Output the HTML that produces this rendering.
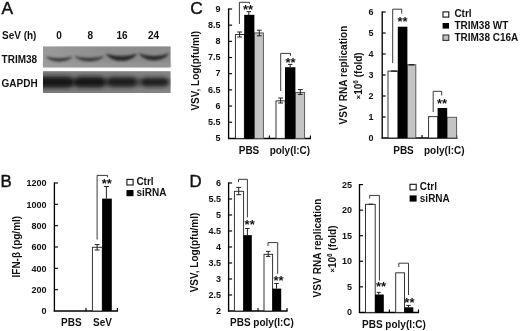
<!DOCTYPE html>
<html><head><meta charset="utf-8"><title>Figure</title>
<style>
html,body{margin:0;padding:0;background:#fff;}
svg{display:block;}
text{font-family:"Liberation Sans",Arial,Helvetica,sans-serif;fill:#111;}
</style></head>
<body>
<svg width="520" height="331" viewBox="0 0 520 331">
<defs>
<linearGradient id="g1" x1="0" y1="0" x2="1" y2="0">
<stop offset="0" stop-color="#9a9a9a"/><stop offset="0.5" stop-color="#8d8d8d"/><stop offset="1" stop-color="#8a8a8a"/>
</linearGradient>
<linearGradient id="g2" x1="0" y1="0" x2="1" y2="0">
<stop offset="0" stop-color="#7c7c7c"/><stop offset="1" stop-color="#858585"/>
</linearGradient>
<filter id="b1" x="-5%" y="-20%" width="110%" height="140%"><feGaussianBlur stdDeviation="0.5"/></filter>
<filter id="b2" x="-10%" y="-50%" width="120%" height="200%"><feGaussianBlur stdDeviation="1.1"/></filter>
<filter id="b3" x="-10%" y="-50%" width="120%" height="200%"><feGaussianBlur stdDeviation="2.1"/></filter>
<clipPath id="c1"><rect x="43" y="46.4" width="127.6" height="21"/></clipPath>
<clipPath id="c2"><rect x="43" y="71.2" width="127.6" height="21.8"/></clipPath>
</defs>
<rect width="520" height="331" fill="#fff"/>
<text x="1.60" y="14.00" font-size="17.3" font-weight="normal" text-anchor="start" stroke="#111" stroke-width="0.45">A</text>
<text x="0.40" y="186.60" font-size="16.8" font-weight="normal" text-anchor="start" stroke="#111" stroke-width="0.45">B</text>
<text x="190.20" y="13.80" font-size="17.3" font-weight="normal" text-anchor="start" stroke="#111" stroke-width="0.45">C</text>
<text x="189.60" y="186.60" font-size="16.8" font-weight="normal" text-anchor="start" stroke="#111" stroke-width="0.45">D</text>
<text x="2.00" y="39.40" font-size="10" font-weight="bold" text-anchor="start" >SeV (h)</text>
<text x="59.00" y="39.40" font-size="10" font-weight="bold" text-anchor="middle" >0</text>
<text x="90.40" y="39.40" font-size="10" font-weight="bold" text-anchor="middle" >8</text>
<text x="122.00" y="39.40" font-size="10" font-weight="bold" text-anchor="middle" >16</text>
<text x="153.60" y="39.40" font-size="10" font-weight="bold" text-anchor="middle" >24</text>
<text x="1.60" y="62.60" font-size="10" font-weight="bold" text-anchor="start" >TRIM38</text>
<text x="1.60" y="86.80" font-size="10" font-weight="bold" text-anchor="start" >GAPDH</text>
<g filter="url(#b1)">
<rect x="43" y="46.4" width="127.6" height="21" fill="url(#g1)"/>
<rect x="43" y="71.2" width="127.6" height="21.8" fill="url(#g2)"/>
</g>
<rect x="43" y="62.5" width="127.6" height="4.9" fill="#a0a0a0" opacity="0.45" filter="url(#b2)"/>
<g clip-path="url(#c1)"><g filter="url(#b2)">
<path d="M46.5,57.0 C53.6,58.9 64.9,58.9 72.0,57.0 C66.4,62.7 52.1,62.7 46.5,57.0 Z" fill="#303030" stroke="#303030" stroke-width="0.8" stroke-linejoin="round" opacity="0.85"/>
<path d="M75.2,56.6 C83.0,58.6 95.4,58.6 103.2,56.6 C97.0,62.6 81.4,62.6 75.2,56.6 Z" fill="#2e2e2e" stroke="#2e2e2e" stroke-width="0.8" stroke-linejoin="round" opacity="0.85"/>
<path d="M106.4,54.2 C114.9,56.9 128.1,56.9 136.6,54.2 C130.0,62.7 113.0,62.7 106.4,54.2 Z" fill="#222" stroke="#222" stroke-width="0.8" stroke-linejoin="round" opacity="0.92"/>
<path d="M139.4,53.8 C147.5,56.9 160.3,56.9 168.4,53.8 C162.0,62.2 145.8,62.2 139.4,53.8 Z" fill="#262626" stroke="#262626" stroke-width="0.8" stroke-linejoin="round" opacity="0.92"/>
</g></g>
<g clip-path="url(#c2)"><g filter="url(#b3)">
<rect x="40" y="77.5" width="100" height="9" fill="#333" opacity="0.75"/><rect x="130" y="78" width="42" height="8" fill="#555" opacity="0.5"/>
<rect x="36.0" y="76.6" width="37.6" height="11.2" rx="5.6" fill="#141414" opacity="1"/>
<rect x="74.2" y="76.8" width="31.4" height="10.8" rx="5.4" fill="#161616" opacity="1"/>
<rect x="107.4" y="77.0" width="29.6" height="10.0" rx="5.0" fill="#1a1a1a" opacity="1"/>
<rect x="140.4" y="77.8" width="28.6" height="8.6" rx="4.3" fill="#1a1a1a" opacity="1"/>
</g></g>
<line x1="54.40" y1="182.40" x2="54.40" y2="311.60" stroke="#000" stroke-width="1.35"/>
<text x="46.60" y="314.30" font-size="9" font-weight="bold" text-anchor="end" >0</text>
<line x1="54.40" y1="289.67" x2="57.90" y2="289.67" stroke="#000" stroke-width="1.15"/>
<text x="46.60" y="292.97" font-size="9" font-weight="bold" text-anchor="end" >200</text>
<line x1="54.40" y1="268.33" x2="57.90" y2="268.33" stroke="#000" stroke-width="1.15"/>
<text x="46.60" y="271.63" font-size="9" font-weight="bold" text-anchor="end" >400</text>
<line x1="54.40" y1="247.00" x2="57.90" y2="247.00" stroke="#000" stroke-width="1.15"/>
<text x="46.60" y="250.30" font-size="9" font-weight="bold" text-anchor="end" >600</text>
<line x1="54.40" y1="225.67" x2="57.90" y2="225.67" stroke="#000" stroke-width="1.15"/>
<text x="46.60" y="228.97" font-size="9" font-weight="bold" text-anchor="end" >800</text>
<line x1="54.40" y1="204.33" x2="57.90" y2="204.33" stroke="#000" stroke-width="1.15"/>
<text x="46.60" y="207.63" font-size="9" font-weight="bold" text-anchor="end" >1000</text>
<line x1="54.40" y1="183.00" x2="57.90" y2="183.00" stroke="#000" stroke-width="1.15"/>
<text x="46.60" y="186.30" font-size="9" font-weight="bold" text-anchor="end" >1200</text>
<line x1="53.80" y1="311.00" x2="118.00" y2="311.00" stroke="#000" stroke-width="1.45"/>
<line x1="86.00" y1="311.00" x2="86.00" y2="308.00" stroke="#000" stroke-width="1.15"/>
<line x1="117.40" y1="311.00" x2="117.40" y2="308.00" stroke="#000" stroke-width="1.15"/>
<rect x="92.40" y="247.30" width="9.90" height="63.70" fill="#fff" stroke="#2a2a2a" stroke-width="0.95"/>
<rect x="102.10" y="198.60" width="9.70" height="112.40" fill="#000"/>
<line x1="97.10" y1="244.60" x2="97.10" y2="250.00" stroke="#222" stroke-width="1.0"/>
<line x1="94.70" y1="244.60" x2="99.50" y2="244.60" stroke="#222" stroke-width="1.0"/>
<line x1="94.70" y1="250.00" x2="99.50" y2="250.00" stroke="#222" stroke-width="1.0"/>
<line x1="106.40" y1="186.50" x2="106.40" y2="198.60" stroke="#222" stroke-width="1.0"/>
<line x1="103.90" y1="186.50" x2="108.90" y2="186.50" stroke="#222" stroke-width="1.0"/>
<polyline points="97.10,239.50 97.10,175.40 107.60,175.40 107.60,177.40" fill="none" stroke="#3a3a3a" stroke-width="1.0"/>
<text x="106.80" y="188.15" font-size="13" font-weight="bold" text-anchor="middle" >**</text>
<text transform="translate(20.20,277.50) rotate(-90)" font-size="10" font-weight="bold" letter-spacing="0">IFN-β (pg/ml)</text>
<text x="71.30" y="325.60" font-size="10" font-weight="bold" text-anchor="middle" >PBS</text>
<text x="102.50" y="325.60" font-size="10" font-weight="bold" text-anchor="middle" >SeV</text>
<rect x="126.9" y="179.4" width="6.2" height="5.6" fill="#fff" stroke="#111" stroke-width="1.1"/>
<rect x="126.5" y="190" width="7" height="6.2" fill="#000"/>
<text x="136.40" y="185.40" font-size="10" font-weight="bold" text-anchor="start" >Ctrl</text>
<text x="136.40" y="196.40" font-size="10" font-weight="bold" text-anchor="start" >siRNA</text>
<line x1="228.60" y1="8.40" x2="228.60" y2="139.00" stroke="#000" stroke-width="1.35"/>
<text x="220.60" y="141.10" font-size="9" font-weight="bold" text-anchor="end" >5</text>
<line x1="228.60" y1="122.23" x2="232.10" y2="122.23" stroke="#000" stroke-width="1.15"/>
<text x="220.60" y="124.93" font-size="9" font-weight="bold" text-anchor="end" >5.5</text>
<line x1="228.60" y1="106.05" x2="232.10" y2="106.05" stroke="#000" stroke-width="1.15"/>
<text x="220.60" y="108.75" font-size="9" font-weight="bold" text-anchor="end" >6</text>
<line x1="228.60" y1="89.88" x2="232.10" y2="89.88" stroke="#000" stroke-width="1.15"/>
<text x="220.60" y="92.58" font-size="9" font-weight="bold" text-anchor="end" >6.5</text>
<line x1="228.60" y1="73.70" x2="232.10" y2="73.70" stroke="#000" stroke-width="1.15"/>
<text x="220.60" y="76.40" font-size="9" font-weight="bold" text-anchor="end" >7</text>
<line x1="228.60" y1="57.53" x2="232.10" y2="57.53" stroke="#000" stroke-width="1.15"/>
<text x="220.60" y="60.23" font-size="9" font-weight="bold" text-anchor="end" >7.5</text>
<line x1="228.60" y1="41.35" x2="232.10" y2="41.35" stroke="#000" stroke-width="1.15"/>
<text x="220.60" y="44.05" font-size="9" font-weight="bold" text-anchor="end" >8</text>
<line x1="228.60" y1="25.17" x2="232.10" y2="25.17" stroke="#000" stroke-width="1.15"/>
<text x="220.60" y="27.87" font-size="9" font-weight="bold" text-anchor="end" >8.5</text>
<line x1="228.60" y1="9.00" x2="232.10" y2="9.00" stroke="#000" stroke-width="1.15"/>
<text x="220.60" y="11.70" font-size="9" font-weight="bold" text-anchor="end" >9</text>
<line x1="228.00" y1="138.40" x2="311.00" y2="138.40" stroke="#000" stroke-width="1.45"/>
<line x1="269.40" y1="138.40" x2="269.40" y2="135.40" stroke="#000" stroke-width="1.15"/>
<line x1="310.40" y1="138.40" x2="310.40" y2="135.40" stroke="#000" stroke-width="1.15"/>
<rect x="235.40" y="34.53" width="9.00" height="103.87" fill="#fff" stroke="#2a2a2a" stroke-width="0.95"/>
<rect x="254.20" y="32.92" width="9.20" height="105.48" fill="#c4c4c4" stroke="#555" stroke-width="0.95"/>
<rect x="244.20" y="14.82" width="10.20" height="123.58" fill="#000"/>
<line x1="239.60" y1="32.00" x2="239.60" y2="37.00" stroke="#222" stroke-width="1.0"/>
<line x1="237.20" y1="32.00" x2="242.00" y2="32.00" stroke="#222" stroke-width="1.0"/>
<line x1="237.20" y1="37.00" x2="242.00" y2="37.00" stroke="#222" stroke-width="1.0"/>
<line x1="248.80" y1="11.70" x2="248.80" y2="15.00" stroke="#222" stroke-width="1.0"/>
<line x1="246.60" y1="11.70" x2="251.00" y2="11.70" stroke="#222" stroke-width="1.0"/>
<line x1="259.30" y1="30.20" x2="259.30" y2="35.80" stroke="#222" stroke-width="1.0"/>
<line x1="256.90" y1="30.20" x2="261.70" y2="30.20" stroke="#222" stroke-width="1.0"/>
<line x1="256.90" y1="35.80" x2="261.70" y2="35.80" stroke="#222" stroke-width="1.0"/>
<polyline points="239.40,24.00 239.40,2.30 249.50,2.30 249.50,3.80" fill="none" stroke="#3a3a3a" stroke-width="1.0"/>
<text x="248.00" y="13.95" font-size="13" font-weight="bold" text-anchor="middle" >**</text>
<rect x="276.00" y="100.85" width="9.20" height="37.55" fill="#fff" stroke="#2a2a2a" stroke-width="0.95"/>
<rect x="295.20" y="92.44" width="9.40" height="45.96" fill="#c4c4c4" stroke="#555" stroke-width="0.95"/>
<rect x="285.00" y="67.23" width="10.40" height="71.17" fill="#000"/>
<line x1="280.60" y1="98.00" x2="280.60" y2="103.00" stroke="#222" stroke-width="1.0"/>
<line x1="278.20" y1="98.00" x2="283.00" y2="98.00" stroke="#222" stroke-width="1.0"/>
<line x1="278.20" y1="103.00" x2="283.00" y2="103.00" stroke="#222" stroke-width="1.0"/>
<line x1="290.20" y1="64.40" x2="290.20" y2="67.20" stroke="#222" stroke-width="1.0"/>
<line x1="288.00" y1="64.40" x2="292.40" y2="64.40" stroke="#222" stroke-width="1.0"/>
<line x1="300.30" y1="89.60" x2="300.30" y2="94.40" stroke="#222" stroke-width="1.0"/>
<line x1="297.90" y1="89.60" x2="302.70" y2="89.60" stroke="#222" stroke-width="1.0"/>
<line x1="297.90" y1="94.40" x2="302.70" y2="94.40" stroke="#222" stroke-width="1.0"/>
<polyline points="280.70,91.00 280.70,53.40 290.50,53.40 290.50,55.80" fill="none" stroke="#3a3a3a" stroke-width="1.0"/>
<text x="290.50" y="66.55" font-size="13" font-weight="bold" text-anchor="middle" >**</text>
<text transform="translate(199.20,110.60) rotate(-90)" font-size="10" font-weight="bold" letter-spacing="0">VSV, Log(pfu/ml)</text>
<text x="249.00" y="153.60" font-size="10" font-weight="bold" text-anchor="middle" >PBS</text>
<text x="289.90" y="153.60" font-size="10" font-weight="bold" text-anchor="middle" >poly(I:C)</text>
<line x1="382.20" y1="11.40" x2="382.20" y2="138.60" stroke="#000" stroke-width="1.35"/>
<text x="373.60" y="140.70" font-size="9" font-weight="bold" text-anchor="end" >0</text>
<line x1="382.20" y1="117.00" x2="385.70" y2="117.00" stroke="#000" stroke-width="1.15"/>
<text x="373.60" y="119.70" font-size="9" font-weight="bold" text-anchor="end" >1</text>
<line x1="382.20" y1="96.00" x2="385.70" y2="96.00" stroke="#000" stroke-width="1.15"/>
<text x="373.60" y="98.70" font-size="9" font-weight="bold" text-anchor="end" >2</text>
<line x1="382.20" y1="75.00" x2="385.70" y2="75.00" stroke="#000" stroke-width="1.15"/>
<text x="373.60" y="77.70" font-size="9" font-weight="bold" text-anchor="end" >3</text>
<line x1="382.20" y1="54.00" x2="385.70" y2="54.00" stroke="#000" stroke-width="1.15"/>
<text x="373.60" y="56.70" font-size="9" font-weight="bold" text-anchor="end" >4</text>
<line x1="382.20" y1="33.00" x2="385.70" y2="33.00" stroke="#000" stroke-width="1.15"/>
<text x="373.60" y="35.70" font-size="9" font-weight="bold" text-anchor="end" >5</text>
<line x1="382.20" y1="12.00" x2="385.70" y2="12.00" stroke="#000" stroke-width="1.15"/>
<text x="373.60" y="14.70" font-size="9" font-weight="bold" text-anchor="end" >6</text>
<line x1="381.60" y1="138.00" x2="457.40" y2="138.00" stroke="#000" stroke-width="1.45"/>
<line x1="422.00" y1="138.00" x2="422.00" y2="135.00" stroke="#000" stroke-width="1.15"/>
<line x1="456.60" y1="138.00" x2="456.60" y2="135.00" stroke="#000" stroke-width="1.15"/>
<rect x="388.00" y="71.10" width="10.00" height="66.90" fill="#fff" stroke="#2a2a2a" stroke-width="0.95"/>
<rect x="407.20" y="64.80" width="8.60" height="73.20" fill="#c4c4c4" stroke="#555" stroke-width="0.95"/>
<rect x="397.80" y="26.70" width="9.60" height="111.30" fill="#000"/>
<line x1="391.00" y1="71.10" x2="397.00" y2="71.10" stroke="#111" stroke-width="1.2"/>
<line x1="408.50" y1="64.80" x2="414.50" y2="64.80" stroke="#111" stroke-width="1.2"/>
<polyline points="392.70,63.00 392.70,9.20 401.70,9.20 401.70,13.60" fill="none" stroke="#3a3a3a" stroke-width="1.0"/>
<text x="402.50" y="25.95" font-size="13" font-weight="bold" text-anchor="middle" >**</text>
<rect x="428.60" y="116.67" width="9.20" height="21.33" fill="#fff" stroke="#2a2a2a" stroke-width="0.95"/>
<rect x="447.00" y="117.30" width="9.60" height="20.70" fill="#c4c4c4" stroke="#555" stroke-width="0.95"/>
<rect x="437.60" y="107.97" width="9.60" height="30.03" fill="#000"/>
<polyline points="433.20,112.00 433.20,91.30 441.70,91.30 441.70,95.40" fill="none" stroke="#3a3a3a" stroke-width="1.0"/>
<text x="442.10" y="108.15" font-size="13" font-weight="bold" text-anchor="middle" >**</text>
<text transform="translate(347.20,124.40) rotate(-90)" font-size="10" font-weight="bold" letter-spacing="0.07">VSV RNA replication</text>
<text transform="translate(361.60,99.20) rotate(-90)" font-size="10" font-weight="bold" letter-spacing="0"><tspan font-size="7.5" dy="-0.6">×</tspan><tspan dy="0.6">10</tspan><tspan font-size="6.5" dy="-4">6</tspan><tspan dy="4"> (fold)</tspan></text>
<text x="403.50" y="153.60" font-size="10" font-weight="bold" text-anchor="middle" >PBS</text>
<text x="444.30" y="153.60" font-size="10" font-weight="bold" text-anchor="middle" >poly(I:C)</text>
<rect x="443" y="11.9" width="5.8" height="5.2" fill="#fff" stroke="#111" stroke-width="1.1"/>
<rect x="442.6" y="23" width="6.4" height="5.6" fill="#000"/>
<rect x="443" y="35" width="5.8" height="5.4" fill="#c4c4c4" stroke="#333" stroke-width="1.1"/>
<text x="454.40" y="17.00" font-size="10" font-weight="bold" text-anchor="start" >Ctrl</text>
<text x="454.40" y="29.00" font-size="10" font-weight="bold" text-anchor="start" >TRIM38 WT</text>
<text x="454.40" y="40.60" font-size="10" font-weight="bold" text-anchor="start" >TRIM38 C16A</text>
<line x1="228.60" y1="182.40" x2="228.60" y2="311.60" stroke="#000" stroke-width="1.35"/>
<text x="221.00" y="314.30" font-size="9" font-weight="bold" text-anchor="end" >2</text>
<line x1="228.60" y1="295.00" x2="232.10" y2="295.00" stroke="#000" stroke-width="1.15"/>
<text x="221.00" y="298.30" font-size="9" font-weight="bold" text-anchor="end" >2.5</text>
<line x1="228.60" y1="279.00" x2="232.10" y2="279.00" stroke="#000" stroke-width="1.15"/>
<text x="221.00" y="282.30" font-size="9" font-weight="bold" text-anchor="end" >3</text>
<line x1="228.60" y1="263.00" x2="232.10" y2="263.00" stroke="#000" stroke-width="1.15"/>
<text x="221.00" y="266.30" font-size="9" font-weight="bold" text-anchor="end" >3.5</text>
<line x1="228.60" y1="247.00" x2="232.10" y2="247.00" stroke="#000" stroke-width="1.15"/>
<text x="221.00" y="250.30" font-size="9" font-weight="bold" text-anchor="end" >4</text>
<line x1="228.60" y1="231.00" x2="232.10" y2="231.00" stroke="#000" stroke-width="1.15"/>
<text x="221.00" y="234.30" font-size="9" font-weight="bold" text-anchor="end" >4.5</text>
<line x1="228.60" y1="215.00" x2="232.10" y2="215.00" stroke="#000" stroke-width="1.15"/>
<text x="221.00" y="218.30" font-size="9" font-weight="bold" text-anchor="end" >5</text>
<line x1="228.60" y1="199.00" x2="232.10" y2="199.00" stroke="#000" stroke-width="1.15"/>
<text x="221.00" y="202.30" font-size="9" font-weight="bold" text-anchor="end" >5.5</text>
<line x1="228.60" y1="183.00" x2="232.10" y2="183.00" stroke="#000" stroke-width="1.15"/>
<text x="221.00" y="186.30" font-size="9" font-weight="bold" text-anchor="end" >6</text>
<line x1="228.00" y1="311.00" x2="287.60" y2="311.00" stroke="#000" stroke-width="1.45"/>
<line x1="258.00" y1="311.00" x2="258.00" y2="308.00" stroke="#000" stroke-width="1.15"/>
<line x1="287.00" y1="311.00" x2="287.00" y2="308.00" stroke="#000" stroke-width="1.15"/>
<rect x="234.40" y="191.30" width="9.20" height="119.70" fill="#fff" stroke="#2a2a2a" stroke-width="0.95"/>
<rect x="243.40" y="235.16" width="8.40" height="75.84" fill="#000"/>
<line x1="238.70" y1="187.40" x2="238.70" y2="194.70" stroke="#222" stroke-width="1.0"/>
<line x1="236.30" y1="187.40" x2="241.10" y2="187.40" stroke="#222" stroke-width="1.0"/>
<line x1="236.30" y1="194.70" x2="241.10" y2="194.70" stroke="#222" stroke-width="1.0"/>
<line x1="247.40" y1="228.50" x2="247.40" y2="235.20" stroke="#222" stroke-width="1.0"/>
<line x1="245.10" y1="228.50" x2="249.70" y2="228.50" stroke="#222" stroke-width="1.0"/>
<polyline points="238.50,182.00 238.50,179.30 247.40,179.30 247.40,217.40" fill="none" stroke="#3a3a3a" stroke-width="1.0"/>
<text x="249.65" y="228.75" font-size="13" font-weight="bold" text-anchor="middle" >**</text>
<rect x="264.00" y="254.34" width="8.60" height="56.66" fill="#fff" stroke="#2a2a2a" stroke-width="0.95"/>
<rect x="272.40" y="288.60" width="8.80" height="22.40" fill="#000"/>
<line x1="268.20" y1="251.40" x2="268.20" y2="256.40" stroke="#222" stroke-width="1.0"/>
<line x1="266.00" y1="251.40" x2="270.40" y2="251.40" stroke="#222" stroke-width="1.0"/>
<line x1="266.00" y1="256.40" x2="270.40" y2="256.40" stroke="#222" stroke-width="1.0"/>
<line x1="276.50" y1="283.50" x2="276.50" y2="288.60" stroke="#222" stroke-width="1.0"/>
<line x1="274.20" y1="283.50" x2="278.80" y2="283.50" stroke="#222" stroke-width="1.0"/>
<polyline points="268.00,246.00 268.00,242.60 277.70,242.60 277.70,273.80" fill="none" stroke="#3a3a3a" stroke-width="1.0"/>
<text x="278.60" y="284.75" font-size="13" font-weight="bold" text-anchor="middle" >**</text>
<text transform="translate(198.30,292.30) rotate(-90)" font-size="10" font-weight="bold" letter-spacing="0">VSV, Log(pfu/ml)</text>
<text x="230.00" y="325.60" font-size="10" font-weight="bold" text-anchor="start" >PBS poly(I:C)</text>
<line x1="359.50" y1="184.00" x2="359.50" y2="313.00" stroke="#000" stroke-width="1.35"/>
<text x="352.00" y="315.40" font-size="9" font-weight="bold" text-anchor="end" >0</text>
<line x1="359.50" y1="286.84" x2="363.00" y2="286.84" stroke="#000" stroke-width="1.15"/>
<text x="352.00" y="289.84" font-size="9" font-weight="bold" text-anchor="end" >5</text>
<line x1="359.50" y1="261.28" x2="363.00" y2="261.28" stroke="#000" stroke-width="1.15"/>
<text x="352.00" y="264.28" font-size="9" font-weight="bold" text-anchor="end" >10</text>
<line x1="359.50" y1="235.72" x2="363.00" y2="235.72" stroke="#000" stroke-width="1.15"/>
<text x="352.00" y="238.72" font-size="9" font-weight="bold" text-anchor="end" >15</text>
<line x1="359.50" y1="210.16" x2="363.00" y2="210.16" stroke="#000" stroke-width="1.15"/>
<text x="352.00" y="213.16" font-size="9" font-weight="bold" text-anchor="end" >20</text>
<line x1="359.50" y1="184.60" x2="363.00" y2="184.60" stroke="#000" stroke-width="1.15"/>
<text x="352.00" y="187.60" font-size="9" font-weight="bold" text-anchor="end" >25</text>
<line x1="358.90" y1="312.40" x2="419.10" y2="312.40" stroke="#000" stroke-width="1.45"/>
<line x1="389.40" y1="312.40" x2="389.40" y2="309.40" stroke="#000" stroke-width="1.15"/>
<line x1="418.50" y1="312.40" x2="418.50" y2="309.40" stroke="#000" stroke-width="1.15"/>
<rect x="365.50" y="204.33" width="9.70" height="108.07" fill="#fff" stroke="#2a2a2a" stroke-width="0.95"/>
<rect x="375.00" y="294.51" width="8.80" height="17.89" fill="#000"/>
<line x1="368.50" y1="204.23" x2="373.00" y2="204.23" stroke="#222" stroke-width="1.1"/>
<line x1="378.70" y1="292.40" x2="378.70" y2="294.70" stroke="#222" stroke-width="1.0"/>
<line x1="376.70" y1="292.40" x2="380.70" y2="292.40" stroke="#222" stroke-width="1.0"/>
<polyline points="369.70,198.50 369.70,195.40 379.40,195.40 379.40,280.50" fill="none" stroke="#3a3a3a" stroke-width="1.0"/>
<text x="381.10" y="291.35" font-size="13" font-weight="bold" text-anchor="middle" >**</text>
<rect x="395.70" y="272.83" width="8.80" height="39.57" fill="#fff" stroke="#2a2a2a" stroke-width="0.95"/>
<rect x="404.30" y="307.29" width="9.00" height="5.11" fill="#000"/>
<line x1="408.50" y1="305.40" x2="408.50" y2="307.30" stroke="#222" stroke-width="1.0"/>
<line x1="406.20" y1="305.40" x2="410.80" y2="305.40" stroke="#222" stroke-width="1.0"/>
<polyline points="398.80,267.00 398.80,263.20 408.50,263.20 408.50,295.00" fill="none" stroke="#3a3a3a" stroke-width="1.0"/>
<text x="409.40" y="306.95" font-size="13" font-weight="bold" text-anchor="middle" >**</text>
<text transform="translate(321.40,297.40) rotate(-90)" font-size="10" font-weight="bold" letter-spacing="0.07">VSV RNA replication</text>
<text transform="translate(336.00,272.40) rotate(-90)" font-size="10" font-weight="bold" letter-spacing="0"><tspan font-size="7.5" dy="-0.6">×</tspan><tspan dy="0.6">10</tspan><tspan font-size="6.5" dy="-4">6</tspan><tspan dy="4"> (fold)</tspan></text>
<text x="362.00" y="328.20" font-size="10" font-weight="bold" text-anchor="start" >PBS poly(I:C)</text>
<rect x="410" y="184.3" width="6.2" height="5.6" fill="#fff" stroke="#111" stroke-width="1.1"/>
<rect x="409.6" y="195.4" width="7" height="6.2" fill="#000"/>
<text x="419.80" y="190.40" font-size="10" font-weight="bold" text-anchor="start" >Ctrl</text>
<text x="419.80" y="201.60" font-size="10" font-weight="bold" text-anchor="start" >siRNA</text>
</svg>
</body></html>
